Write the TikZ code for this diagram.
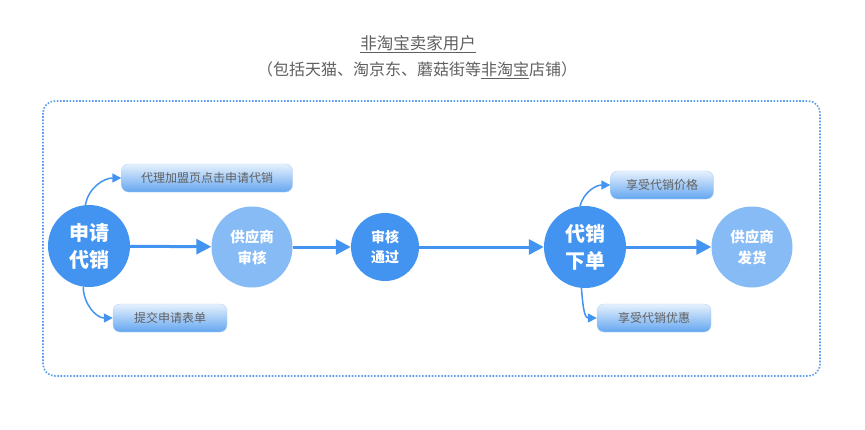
\documentclass[tikz,border=0pt]{standalone}
\usepackage{fontspec}
\setmainfont{Noto Sans CJK SC}
\usetikzlibrary{arrows.meta}
\definecolor{darkblue}{HTML}{4394F0}
\definecolor{lightblue}{HTML}{86BBF5}
\definecolor{boxtop}{HTML}{E6F1FD}
\definecolor{boxbot}{HTML}{64A6F0}
\definecolor{txtgray}{HTML}{606060}
\definecolor{dotblue}{HTML}{5A9EF0}
\tikzset{
  bigcirc/.style={circle, fill=darkblue, minimum size=82pt, inner sep=0pt, text=white, align=center, font=\fontsize{20}{27}\selectfont\bfseries},
  smallcirc/.style={circle, fill=lightblue, minimum size=81pt, inner sep=0pt, text=white, align=center, font=\fontsize{14.5}{21}\selectfont\bfseries},
  passcirc/.style={circle, fill=darkblue, minimum size=68pt, inner sep=0pt, text=white, align=center, font=\fontsize{14}{20}\selectfont\bfseries},
  tagbox/.style={rounded corners=7pt, top color=boxtop, bottom color=boxbot, draw=boxtop!60!boxbot, line width=0.4pt, minimum height=28pt, inner sep=0pt, text=txtgray, font=\fontsize{12}{14}\selectfont},
  mainarrow/.style={draw=darkblue, line width=3pt, -{Triangle[length=15pt,width=15pt]}},
  sidearrow/.style={draw=darkblue, line width=1.5pt, -{Triangle[length=9pt,width=9pt]}},
  titletext/.style={text=txtgray, inner sep=0pt}
}
\begin{document}
\begin{tikzpicture}[x=1pt,y=-1pt]
\useasboundingbox (0,0) rectangle (865,429);
\fill[white] (0,0) rectangle (865,429);
% dotted frame
\draw[dotblue, line width=1.6pt, dash pattern=on 1.6pt off 1.6pt, rounded corners=12pt] (43,101) rectangle (820,376);
% title
\node[titletext, font=\fontsize{16.5}{20}\selectfont] (t1) at (418,44) {\underline{非淘宝卖家用户}};
\node[titletext, font=\fontsize{16}{20}\selectfont] (t2) at (417,70) {（包括天猫、淘京东、蘑菇街等\underline{非淘宝}店铺）};
% circles
\node[bigcirc] (c1) at (89,246) {申请\\代销};
\node[smallcirc] (c2) at (252,247) {供应商\\审核};
\node[passcirc] (c3) at (385,247) {审核\\通过};
\node[bigcirc] (c4) at (585,247) {代销\\下单};
\node[smallcirc] (c5) at (752,247) {供应商\\发货};
% tag boxes
\node[tagbox, minimum width=171pt] (b1) at (207,178) {代理加盟页点击申请代销};
\node[tagbox, minimum width=114pt] (b2) at (170,318) {提交申请表单};
\node[tagbox, minimum width=103pt] (b3) at (662,185) {享受代销价格};
\node[tagbox, minimum width=114pt] (b4) at (654,318) {享受代销优惠};
% main arrows
\draw[mainarrow] (c1) -- (c2);
\draw[mainarrow] (c2) -- (c3);
\draw[mainarrow] (c3) -- (c4);
\draw[mainarrow] (c4) -- (c5);
% side arrows
\draw[sidearrow] (c1.95) to[out=80,in=180] (b1.west);
\draw[sidearrow] (c1.262) to[out=-90,in=180] (b2.west);
\draw[sidearrow] (c4.97) to[out=75,in=180] (b3.west);
\draw[sidearrow] (c4.265) to[out=-85,in=180] (b4.west);
\end{tikzpicture}
\end{document}
